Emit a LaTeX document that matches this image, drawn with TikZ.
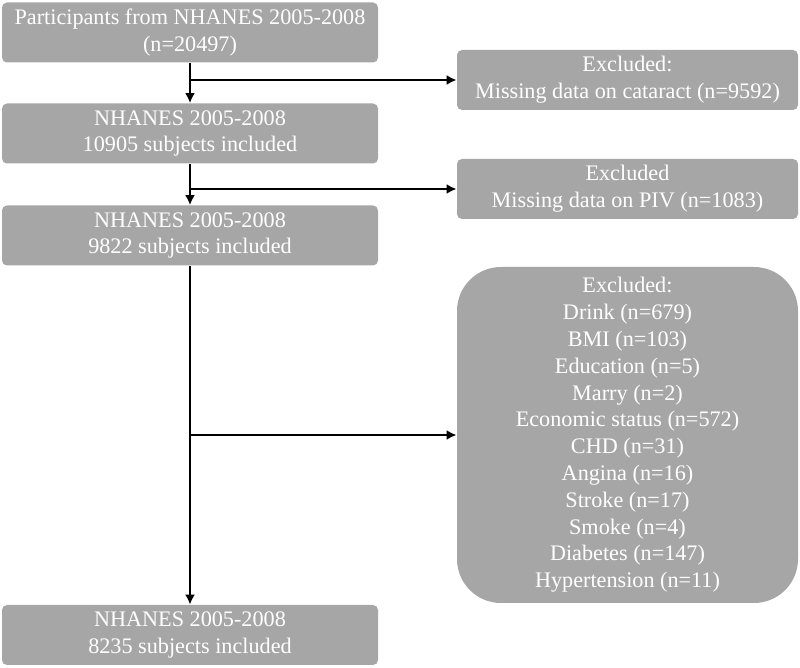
\documentclass[tikz,border=0pt]{standalone}
\usepackage{fontspec}
\setmainfont{Liberation Serif}
\usetikzlibrary{arrows.meta, positioning}
\definecolor{boxgray}{RGB}{166,166,166}

\begin{document}
\begin{tikzpicture}[
			x=0.5pt, y=-0.5pt,
			box/.style={rectangle, rounded corners=2.5pt, fill=boxgray, text=white, minimum width=188pt, minimum height=30pt, inner sep=0pt, align=center, font=\fontsize{11.1}{13.4}\selectfont},
			exbox/.style={box, minimum width=170.5pt},
			flow/.style={line width=1.3pt, -{Latex[length=5pt, width=5pt]}}
			]
			\useasboundingbox (0,0) rectangle (800,668);
			\node[box] (all) at (190,32.5) {Participants from NHANES 2005-2008\\(n=20497)};
			\node[box] (cat) at (190,133.5) {NHANES 2005-2008\\10905 subjects included};
			\node[box] (piv) at (190,235.5) {NHANES 2005-2008\\9822 subjects included};
			\node[box] (final) at (190,635) {NHANES 2005-2008\\8235 subjects included};
			\node[exbox] (excat) at (627.5,80) {Excluded:\\Missing data on cataract (n=9592)};
			\node[exbox] (expiv) at (627.5,189) {Excluded\\Missing data on PIV (n=1083)};
			\node[exbox, rounded corners=22pt, minimum height=168pt] (excov) at (627.5,435) {Excluded:\\Drink (n=679)\\BMI (n=103)\\Education (n=5)\\Marry (n=2)\\Economic status (n=572)\\CHD (n=31)\\Angina (n=16)\\Stroke (n=17)\\Smoke (n=4)\\Diabetes (n=147)\\Hypertension (n=11)};
			\draw[flow] (all) -- (cat);
			\draw[flow] (cat) -- (piv);
			\draw[flow] (piv) -- (final);
			\draw[flow] (all.south |- excat) -- (excat);
			\draw[flow] (cat.south |- expiv) -- (expiv);
			\draw[flow] (piv.south |- excov) -- (excov);
		\end{tikzpicture}
\end{document}
